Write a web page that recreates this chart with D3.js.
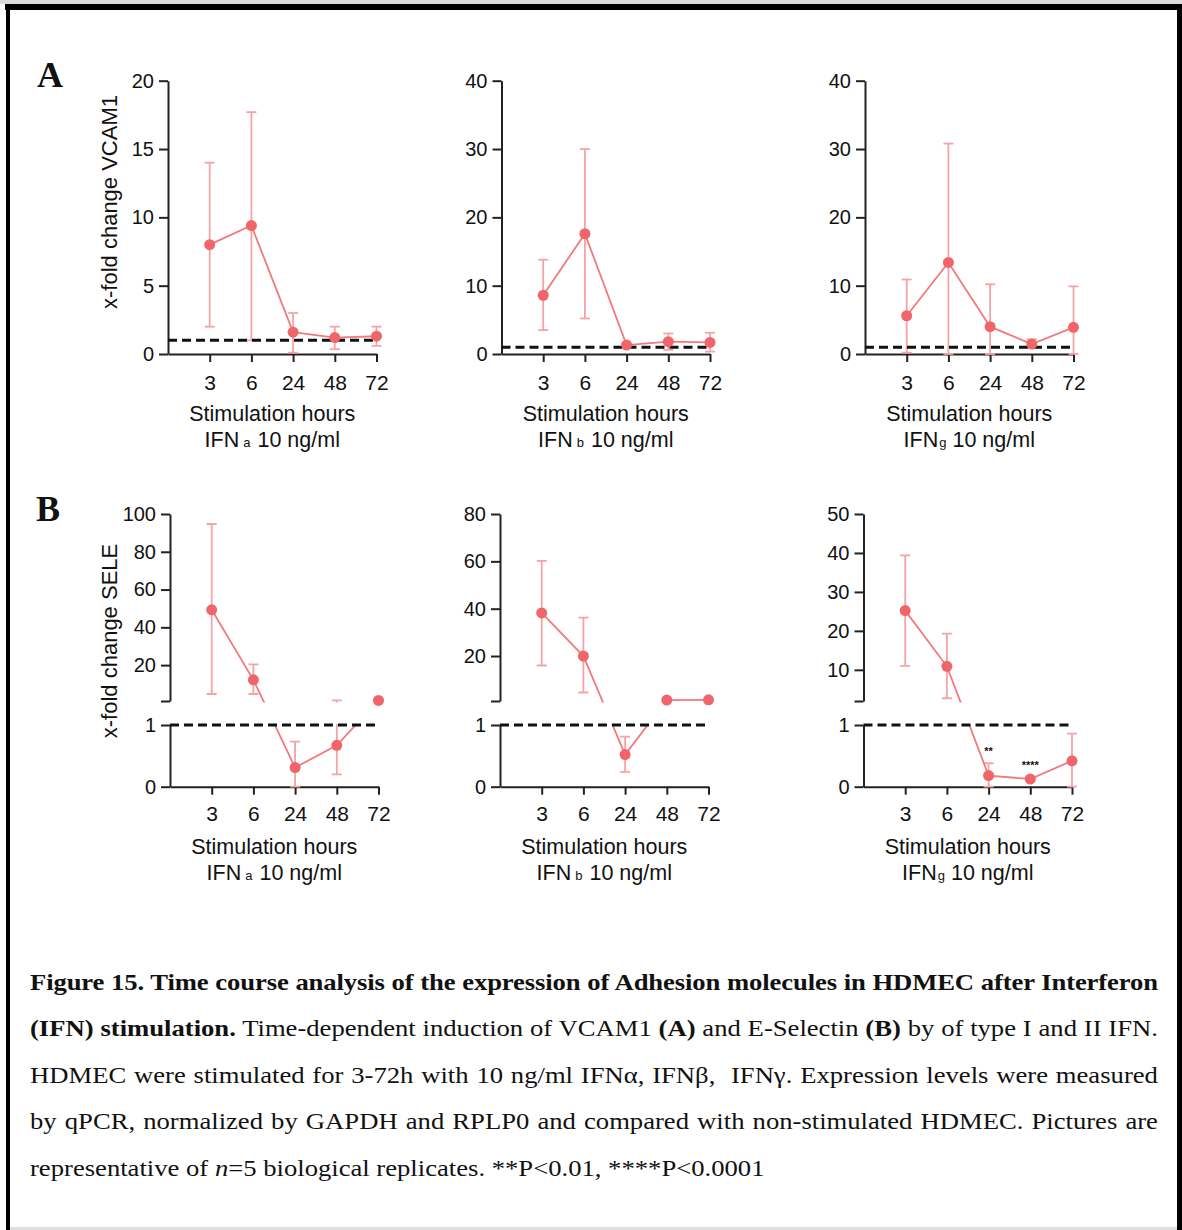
<!DOCTYPE html>
<html>
<head>
<meta charset="utf-8">
<script src="https://cdn.jsdelivr.net/npm/d3@7"></script>
<style>
  html, body { margin: 0; padding: 0; background: #fff; }
  #wrap { position: relative; width: 1182px; height: 1230px; overflow: hidden; }
  .cap {
    position: absolute; left: 30px; width: 974px;
    font-family: "Liberation Serif", "Times New Roman", serif;
    font-size: 23px; line-height: 23px; white-space: nowrap; color: #111;
    transform: scaleX(1.158); transform-origin: 0 0;
  }
  .just { text-align: justify; text-align-last: justify; }
  .tight { letter-spacing: -0.1px; }
</style>
</head>
<body>
<div id="wrap"></div>
<script>
// Categories (stimulation hours)
const HOURS = ['3', '6', '24', '48', '72'];

// Panel A — VCAM1 fold change (mean, lower / upper error)
const vcamAlphaMean = [8.0, 9.4, 1.6, 1.2, 1.3];
const vcamAlphaLow  = [2.0, 1.0, 0.1, 0.35, 0.6];
const vcamAlphaHigh = [14.0, 17.7, 3.0, 2.0, 2.0];

const vcamBetaMean = [8.6, 17.6, 1.3, 1.8, 1.7];
const vcamBetaLow  = [3.5, 5.2, 1.1, 0.6, 0.35];
const vcamBetaHigh = [13.8, 30.0, 1.5, 3.0, 3.1];

const vcamGammaMean = [5.6, 13.4, 4.0, 1.45, 3.9];
const vcamGammaLow  = [0.2, 0, 0, 1.0, 0];
const vcamGammaHigh = [10.9, 30.8, 10.2, 2.15, 9.9];

// Panel B — SELE fold change (split y axis: 0–1 and 1–top)
const seleAlphaMean = [49.3, 12.2, 0.31, 0.67, 1.3];
const seleAlphaLow  = [4.7, 4.7, 0, 0.2, 1.3];
const seleAlphaHigh = [94.7, 20.4, 0.73, 1.3, 1.3];

const seleBetaMean = [38.2, 20.0, 0.52, 1.4, 1.5];
const seleBetaLow  = [16.0, 4.6, 0.24, 1.4, 1.5];
const seleBetaHigh = [60.2, 36.2, 0.81, 1.4, 1.5];

const seleGammaMean = [25.2, 10.9, 0.18, 0.125, 0.42];
const seleGammaLow  = [11.0, 2.7, 0, 0.1, 0];
const seleGammaHigh = [39.4, 19.3, 0.38, 0.15, 0.86];
const seleGammaStars = ['', '', '**', '****', ''];

// Tick values
const yTicksA = [[0, 5, 10, 15, 20], [0, 10, 20, 30, 40], [0, 10, 20, 30, 40]];
const yMaxA = [20, 40, 40];
const yTicksBUpper = [[20, 40, 60, 80, 100], [20, 40, 60, 80], [10, 20, 30, 40, 50]];
const yTicksBLower = [0, 1];
const upperLoB = [1, 1, 2];
const upperTopB = [100, 80, 50];
const ifnSubs = ['a', 'b', 'g'];
const BASELINE = 1;

// Layout
const W = 1182, H = 1230;
const STEP = 41.7;
const xAxisA = [168, 501.5, 865];
const xAxisB = [170, 500, 863.5];
const FONT = '"Liberation Sans", Arial, sans-serif';
const LINE_COLOR = '#f27a7c';
const DOT_COLOR = '#f0656a';
const ERR_COLOR = '#f6a3a5';
const AXIS_COLOR = '#222';

const wrap = d3.select('#wrap');
const svg = wrap.append('svg').attr('width', W).attr('height', H)
  .style('position', 'absolute').style('left', 0).style('top', 0);
const defs = svg.append('defs');

// frame
svg.append('rect').attr('x', 0).attr('y', 0).attr('width', W).attr('height', 4).attr('fill', '#dcdcdc');
svg.append('rect').attr('x', 5).attr('y', 4).attr('width', W - 5).attr('height', 6).attr('fill', '#000');
svg.append('rect').attr('x', 6).attr('y', 4).attr('width', 4).attr('height', H).attr('fill', '#000');
svg.append('rect').attr('x', 1177).attr('y', 4).attr('width', 5).attr('height', H).attr('fill', '#000');
svg.append('rect').attr('x', 10).attr('y', 1227).attr('width', 1167).attr('height', 3).attr('fill', '#dedede');

// panel letters
[['A', 37, 87], ['B', 36, 521]].forEach(([t, x, y]) => {
  svg.append('text').attr('x', x).attr('y', y)
    .attr('font-family', '"Liberation Serif", "Times New Roman", serif')
    .attr('font-weight', 'bold').attr('font-size', 36).attr('fill', '#111').text(t);
});

function styleAxis(ax) {
  ax.selectAll('.domain').attr('stroke', AXIS_COLOR).attr('stroke-width', 2);
  ax.selectAll('.tick line').attr('stroke', AXIS_COLOR).attr('stroke-width', 2);
  ax.selectAll('.tick text').attr('fill', '#111').attr('font-family', FONT).attr('font-size', 20);
}

function drawPanel(p) {
  const g = svg.append('g');
  const x = d3.scaleLinear().domain([0, 5]).range([p.x0, p.x0 + 5 * STEP]);
  const xi = i => x(i + 1);

  // y axes
  p.axes.forEach(a => {
    const ax = g.append('g').attr('transform', `translate(${p.x0},0)`)
      .call(d3.axisLeft(a.scale).tickValues(a.ticks).tickSize(9).tickPadding(5).tickSizeOuter(0)
        .tickFormat(d => a.labels.includes(d) ? d : ''));
    styleAxis(ax);
  });

  // x axis
  const xa = g.append('g').attr('transform', `translate(0,${p.xAxisY})`)
    .call(d3.axisBottom(x).tickValues([1, 2, 3, 4, 5]).tickSize(8).tickSizeOuter(0)
      .tickFormat(d => HOURS[d - 1]));
  styleAxis(xa);
  xa.selectAll('.tick text').attr('y', p.tickBaseline - p.xAxisY).attr('dy', 0).attr('font-size', 21);

  // clip regions (split axis)
  const layers = p.clips.map((c, k) => {
    const id = `clip-${p.id}-${k}`;
    defs.append('clipPath').attr('id', id).append('rect')
      .attr('x', p.x0 - 20).attr('y', c[0]).attr('width', 6 * STEP + 40).attr('height', c[1] - c[0]);
    return g.append('g').attr('clip-path', `url(#${id})`);
  });
  if (!layers.length) layers.push(g.append('g'));

  const idx = d3.range(p.mean.length);
  layers.forEach(L => {
    // error bars
    idx.forEach(i => {
      const y1 = p.yOf(p.low[i]), y2 = p.yOf(p.high[i]);
      L.append('line').attr('x1', xi(i)).attr('x2', xi(i)).attr('y1', y1).attr('y2', y2)
        .attr('stroke', ERR_COLOR).attr('stroke-width', 1.8);
      [y1, y2].forEach(yy => L.append('line')
        .attr('x1', xi(i) - 5).attr('x2', xi(i) + 5).attr('y1', yy).attr('y2', yy)
        .attr('stroke', ERR_COLOR).attr('stroke-width', 1.8));
    });
    L.append('path').datum(idx)
      .attr('d', d3.line().x(i => xi(i)).y(i => p.yOf(p.mean[i])))
      .attr('fill', 'none').attr('stroke', LINE_COLOR).attr('stroke-width', 1.8);
  });

  // dashed baseline at 1
  g.append('line').attr('x1', p.x0).attr('x2', x(5))
    .attr('y1', p.baseY).attr('y2', p.baseY)
    .attr('stroke', '#111').attr('stroke-width', 3).attr('stroke-dasharray', '9,5');

  // markers
  g.selectAll('circle.pt').data(idx).join('circle').attr('class', 'pt')
    .attr('cx', i => xi(i)).attr('cy', i => p.yOf(p.mean[i])).attr('r', 5.5)
    .attr('fill', DOT_COLOR);

  // significance
  if (p.stars) {
    idx.forEach(i => {
      if (!p.stars[i]) return;
      g.append('text').attr('x', xi(i)).attr('y', p.yOf(p.high[i]) - 8)
        .attr('text-anchor', 'middle').attr('font-family', FONT).attr('font-weight', 'bold')
        .attr('font-size', 11).attr('fill', '#111').text(p.stars[i]);
    });
  }

  // x titles
  const cx = (p.x0 + x(5)) / 2;
  g.append('text').attr('x', cx).attr('y', p.titleBaseline).attr('text-anchor', 'middle')
    .attr('font-family', FONT).attr('font-size', 21.5).attr('fill', '#111').text('Stimulation hours');
  const t2 = g.append('text').attr('x', cx).attr('y', p.titleBaseline + 26).attr('text-anchor', 'middle')
    .attr('font-family', FONT).attr('font-size', 21.5).attr('fill', '#111');
  t2.append('tspan').text('IFN');
  t2.append('tspan').attr('font-size', 13).attr('dx', p.sub === 'g' ? 1 : 4).text(p.sub);
  t2.append('tspan').attr('dx', p.sub === 'g' ? 6 : 7).text('10 ng/ml');

  // y title
  if (p.yTitle) {
    g.append('text').attr('transform', `translate(117,${p.yTitleY}) rotate(-90)`)
      .attr('text-anchor', 'middle').attr('font-family', FONT).attr('font-size', 22)
      .attr('fill', '#111').text(p.yTitle);
  }
}

// Panel A
const vcamMeans = [vcamAlphaMean, vcamBetaMean, vcamGammaMean];
const vcamLows = [vcamAlphaLow, vcamBetaLow, vcamGammaLow];
const vcamHighs = [vcamAlphaHigh, vcamBetaHigh, vcamGammaHigh];
[0, 1, 2].forEach(k => {
  const y = d3.scaleLinear().domain([0, yMaxA[k]]).range([354, 80.7]);
  drawPanel({
    id: `a${k}`, x0: xAxisA[k], xAxisY: 354, tickBaseline: 389.5, titleBaseline: 421,
    axes: [{ scale: y, ticks: yTicksA[k], labels: yTicksA[k] }],
    yOf: v => y(v), baseY: y(BASELINE), clips: [],
    mean: vcamMeans[k], low: vcamLows[k], high: vcamHighs[k],
    sub: ifnSubs[k], yTitle: k === 0 ? 'x-fold change VCAM1' : null, yTitleY: 202
  });
});

// Panel B (split axis)
const seleMeans = [seleAlphaMean, seleBetaMean, seleGammaMean];
const seleLows = [seleAlphaLow, seleBetaLow, seleGammaLow];
const seleHighs = [seleAlphaHigh, seleBetaHigh, seleGammaHigh];
[0, 1, 2].forEach(k => {
  const up = d3.scaleLinear().domain([upperLoB[k], upperTopB[k]]).range([701, 514]);
  const lo = d3.scaleLinear().domain([0, 1]).range([786.7, 725]);
  drawPanel({
    id: `b${k}`, x0: xAxisB[k], xAxisY: 786.7, tickBaseline: 821, titleBaseline: 853.5,
    axes: [
      { scale: up, ticks: [upperLoB[k]].concat(yTicksBUpper[k]), labels: yTicksBUpper[k] },
      { scale: lo, ticks: yTicksBLower, labels: yTicksBLower }
    ],
    yOf: v => (v >= 1 ? up(v) : lo(v)), baseY: lo(BASELINE), clips: [[505, 702.5], [724, 800]],
    mean: seleMeans[k], low: seleLows[k], high: seleHighs[k],
    stars: k === 2 ? seleGammaStars : null,
    sub: ifnSubs[k], yTitle: k === 0 ? 'x-fold change SELE' : null, yTitleY: 641
  });
});

// Caption
const captionLines = [
  { html: '<b>Figure 15. Time course analysis of the expression of Adhesion molecules in HDMEC after Interferon</b>', cls: 'just tight' },
  { html: '<b>(IFN) stimulation.</b> Time-dependent induction of VCAM1 <b>(A)</b> and E-Selectin <b>(B)</b> by of type I and II IFN.', cls: 'just' },
  { html: 'HDMEC were stimulated for 3-72h with 10 ng/ml IFN\u03b1, IFN\u03b2,&nbsp; IFN\u03b3. Expression levels were measured', cls: 'just' },
  { html: 'by qPCR, normalized by GAPDH and RPLP0 and compared with non-stimulated HDMEC. Pictures are', cls: 'just' },
  { html: 'representative of <i>n</i>=5 biological replicates. **P&lt;0.01, ****P&lt;0.0001', cls: '' }
];
const captionBaselines = [990, 1036.5, 1083, 1129.5, 1176];
captionLines.forEach((l, i) => {
  wrap.append('div').attr('class', 'cap ' + l.cls)
    .style('top', (captionBaselines[i] - 19.3) + 'px').html(l.html);
});
</script>
</body>
</html>
